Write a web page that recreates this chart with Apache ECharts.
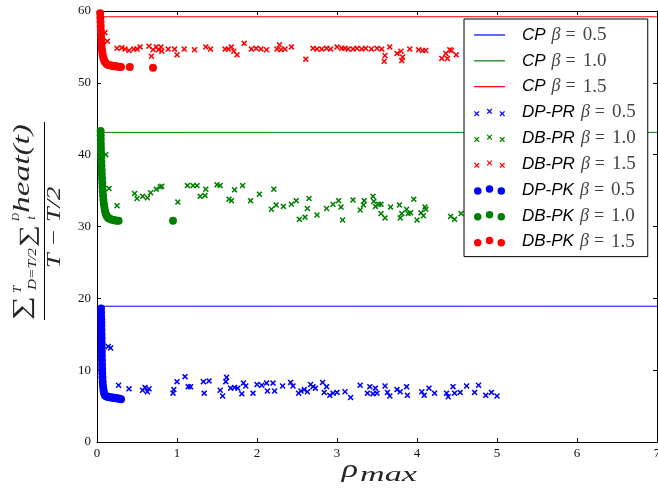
<!DOCTYPE html>
<html><head><meta charset="utf-8">
<script src="https://cdn.jsdelivr.net/npm/echarts@6/dist/echarts.min.js"></script>
<style>html,body{margin:0;padding:0;background:#fff}#c{width:658px;height:493px}</style>
</head><body><div id="c"></div>
<script>
// ---- axis ranges / ticks ----
const xRange = [0, 7];
const xInterval = 1;
const yRange = [0, 60];
const yInterval = 10;

// ---- series names (legend order) ----
const seriesNames = [
  'CP β = 0.5', 'CP β = 1.0', 'CP β = 1.5',
  'DP-PR β = 0.5', 'DB-PR β = 1.0', 'DB-PR β = 1.5',
  'DP-PK β = 0.5', 'DB-PK β = 1.0', 'DB-PK β = 1.5'
];
const seriesColors = ['#0000ff', '#008000', '#ff0000'];

// ---- CP constant levels ----
const cpLevels = [18.9, 43.1, 59.2];

// ---- DP-PR / DB-PR (crosses) [rho_max, value] ----
const dpPR05 = [[0.07,16.8],[0.14,13.3],[0.17,13.1],[0.27,7.9],[0.40,7.4],[0.57,7.2],[0.60,7.6],[0.63,7.0],[0.65,7.4],
  [0.95,6.8],[0.96,7.3],[1.00,8.4],[1.10,9.1],[1.14,7.7],[1.17,7.7],[1.33,8.4],[1.34,6.8],[1.40,8.5],[1.54,7.2],[1.57,6.4],
  [1.61,8.4],[1.62,9.0],[1.67,7.5],[1.72,7.6],[1.76,7.5],[1.81,6.7],[1.83,8.2],[1.86,7.8],[1.95,6.8],[2.00,8.0],[2.06,7.9],
  [2.12,8.2],[2.13,7.1],[2.20,8.2],[2.22,7.1],[2.32,7.8],[2.42,8.3],[2.45,7.8],[2.52,6.8],[2.55,7.1],[2.59,7.3],[2.63,7.0],
  [2.67,8.0],[2.70,7.7],[2.73,7.5],[2.82,8.3],[2.84,6.9],[2.87,7.7],[2.91,6.5],[2.95,6.8],[3.00,6.9],[3.10,7.0],[3.17,6.2],
  [3.29,7.9],[3.38,6.8],[3.41,7.7],[3.45,6.7],[3.48,7.5],[3.50,6.8],[3.60,7.8],[3.63,6.9],[3.66,6.4],[3.75,7.3],[3.79,7.0],
  [3.87,7.7],[3.88,6.5],[4.06,7.0],[4.09,6.5],[4.15,7.5],[4.22,6.8],[4.37,6.8],[4.39,6.3],[4.45,7.7],[4.47,6.8],[4.54,6.9],
  [4.62,7.8],[4.72,6.9],[4.77,7.9],[4.86,6.5],[4.93,6.9],[5.00,6.4]];
const dbPR10 = [[0.11,40.0],[0.15,35.3],[0.25,32.9],[0.47,34.6],[0.50,33.9],[0.57,34.2],[0.63,34.0],[0.67,34.7],[0.74,35.2],
  [0.79,35.5],[0.81,35.6],[1.01,33.4],[1.13,35.7],[1.20,35.7],[1.25,35.7],[1.29,34.2],[1.35,34.3],[1.36,35.2],[1.50,35.8],
  [1.54,35.7],[1.65,33.8],[1.68,33.6],[1.72,35.1],[1.82,35.7],[1.92,33.6],[2.03,34.5],[2.18,32.4],[2.21,35.2],[2.24,33.0],
  [2.33,32.8],[2.43,33.1],[2.49,33.6],[2.53,31.0],[2.60,31.3],[2.63,32.5],[2.65,33.9],[2.75,31.6],[2.87,32.5],[2.95,33.1],
  [3.02,33.6],[3.05,32.7],[3.07,30.9],[3.20,33.7],[3.29,32.3],[3.33,33.0],[3.34,33.6],[3.45,34.2],[3.46,33.5],[3.48,32.8],
  [3.52,33.1],[3.55,33.1],[3.55,31.8],[3.60,31.2],[3.67,32.7],[3.78,33.0],[3.79,31.2],[3.81,31.8],[3.87,32.4],[3.89,31.8],
  [3.92,31.9],[3.96,33.8],[4.00,30.9],[4.05,31.9],[4.08,31.5],[4.10,32.7],[4.11,32.4],[4.42,31.4],[4.47,31.0],[4.55,31.8]];
const dbPR15 = [[0.10,57.0],[0.13,55.8],[0.25,54.8],[0.31,54.9],[0.35,54.7],[0.40,54.5],[0.46,54.7],[0.50,54.7],[0.54,55.0],
  [0.65,55.1],[0.68,53.7],[0.70,54.6],[0.74,55.0],[0.77,54.6],[0.80,55.0],[0.81,54.4],[0.89,54.7],[0.97,54.7],[1.00,53.9],
  [1.09,54.7],[1.22,54.6],[1.36,55.0],[1.42,54.7],[1.60,54.7],[1.64,54.7],[1.68,55.0],[1.71,54.4],[1.75,53.9],[1.84,55.5],
  [1.93,54.7],[1.99,54.8],[2.05,54.7],[2.12,54.6],[2.25,54.7],[2.28,55.3],[2.30,54.6],[2.35,54.7],[2.43,55.0],[2.61,53.3],
  [2.70,54.8],[2.75,54.7],[2.81,54.7],[2.87,54.8],[2.92,54.7],[3.00,55.0],[3.06,54.8],[3.10,54.8],[3.14,54.7],[3.20,54.7],
  [3.25,54.8],[3.31,54.7],[3.36,54.8],[3.43,54.7],[3.50,54.8],[3.56,54.7],[3.59,53.0],[3.60,53.8],[3.66,55.0],[3.75,54.1],
  [3.80,54.4],[3.81,53.1],[3.82,53.6],[3.91,54.7],[4.02,54.6],[4.07,54.5],[4.11,54.5],[4.31,53.4],[4.36,54.1],[4.38,53.4],
  [4.41,54.6],[4.43,54.5],[4.49,53.9]];

// ---- DP-PK / DB-PK (dots) [rho_max, value] ----
const dpPK05 = [[0.050,18.6],[0.051,18.0],[0.052,17.4],[0.053,16.8],[0.054,16.2],[0.055,15.6],[0.056,15.0],[0.057,14.4],
  [0.058,13.8],[0.059,13.2],[0.060,12.6],[0.061,12.0],[0.062,11.4],[0.063,10.8],[0.064,10.2],[0.066,9.6],[0.068,9.0],
  [0.071,8.4],[0.075,7.8],[0.080,7.3],[0.087,6.9],[0.095,6.6],[0.105,6.45],[0.12,6.35],[0.135,6.3],[0.15,6.25],[0.17,6.2],
  [0.19,6.2],[0.21,6.15],[0.23,6.1],[0.25,6.1],[0.27,6.05],[0.29,6.0],[0.30,5.95]];
const dbPK10 = [[0.045,43.3],[0.046,42.7],[0.047,42.1],[0.048,41.5],[0.049,40.9],[0.050,40.3],[0.052,39.7],[0.054,39.1],
  [0.056,38.5],[0.058,37.9],[0.060,37.3],[0.063,36.7],[0.066,36.1],[0.069,35.5],[0.072,34.9],[0.076,34.3],[0.080,33.7],
  [0.085,33.2],[0.091,32.7],[0.098,32.3],[0.106,31.9],[0.115,31.6],[0.125,31.4],[0.14,31.2],[0.155,31.1],[0.17,31.0],
  [0.19,30.95],[0.21,30.9],[0.23,30.85],[0.25,30.8],[0.27,30.8],[0.95,30.8]];
const dbPK15 = [[0.040,59.7],[0.042,59.1],[0.044,58.5],[0.046,57.9],[0.048,57.3],[0.050,56.7],[0.053,56.1],[0.056,55.5],
  [0.060,54.9],[0.065,54.4],[0.071,53.9],[0.078,53.5],[0.087,53.2],[0.097,52.95],[0.11,52.75],[0.125,52.6],[0.14,52.5],
  [0.16,52.45],[0.18,52.4],[0.20,52.35],[0.22,52.3],[0.24,52.3],[0.26,52.25],[0.28,52.25],[0.30,52.2],[0.41,52.2],[0.70,52.1]];

// ---- marker shapes ----
function crossPoly(cx, cy, a, w) {
  const p = [[cx-a,cy-a+w],[cx-a+w,cy-a],[cx,cy-w],[cx+a-w,cy-a],[cx+a,cy-a+w],[cx+w,cy],
             [cx+a,cy+a-w],[cx+a-w,cy+a],[cx,cy+w],[cx-a+w,cy+a],[cx-a,cy+a-w],[cx-w,cy]];
  return 'M' + p.map(q => q[0].toFixed(2) + ' ' + q[1].toFixed(2)).join(' L') + ' Z';
}
function circlePath(cx, cy, r) {
  return `M${cx-r} ${cy} A${r} ${r} 0 1 0 ${cx+r} ${cy} A${r} ${r} 0 1 0 ${cx-r} ${cy} Z`;
}
const crossSymbol = 'path://' + crossPoly(5, 5, 5, 1.8);
const crossLegendIcon = 'path://' + [crossPoly(2.75,5.05,2.75,0.85), crossPoly(15.5,2.75,2.75,0.85), crossPoly(28.25,5.05,2.75,0.85)].join(' ');
const dotLegendIcon = 'path://' + [circlePath(3.75,5.85,3.75), circlePath(15.5,3.75,3.75), circlePath(27.25,5.85,3.75)].join(' ');
const lineLegendIcon = 'path://M0 0 L31 0 L31 1.2 L0 1.2 Z';

const crossData = [dpPR05, dbPR10, dbPR15];
const dotData = [dpPK05, dbPK10, dbPK15];

const series = [];
cpLevels.forEach((v, i) => {
  series.push({
    name: seriesNames[i], type: 'line', symbol: 'none', showSymbol: false, silent: true,
    data: [[xRange[0], v], [xRange[1], v]],
    lineStyle: { color: seriesColors[i], width: 1 }, itemStyle: { color: seriesColors[i] }, z: 2
  });
});
crossData.forEach((d, i) => {
  series.push({
    name: seriesNames[3 + i], type: 'scatter', symbol: crossSymbol, symbolSize: 6,
    data: d, itemStyle: { color: seriesColors[i], opacity: 1 }, z: 3
  });
});
dotData.forEach((d, i) => {
  series.push({
    name: seriesNames[6 + i], type: 'scatter', symbol: 'circle', symbolSize: 8,
    data: d, itemStyle: { color: seriesColors[i], opacity: 1 }, z: 4
  });
});

const axisCommon = {
  type: 'value', splitLine: { show: false },
  axisLine: { show: true, onZero: false, lineStyle: { color: '#000', width: 1 } },
  axisTick: { show: true, inside: true, length: 4, lineStyle: { color: '#000', width: 1 } }
};
const labelFont = { color: '#111', fontFamily: '"Liberation Serif", serif', fontSize: 13, showMinLabel: true, showMaxLabel: true };

const serifI = '"Liberation Serif", serif';
function mtext(x, y, text, size, sx, align) {
  return {
    type: 'text', x: x, y: y, scaleX: sx || 1,
    style: { text: text, fontFamily: serifI, fontStyle: 'italic', fontSize: size, fill: '#262626',
             align: align || 'left', verticalAlign: 'middle' }
  };
}
function utext(x, y, text, size, sx) {
  return {
    type: 'text', x: x, y: y, scaleX: sx || 1,
    style: { text: text, fontFamily: serifI, fontSize: size, fill: '#262626', align: 'left', verticalAlign: 'middle' }
  };
}

const chart = echarts.init(document.getElementById('c'), null, { renderer: 'canvas' });
chart.setOption({
  animation: false,
  backgroundColor: '#fff',
  grid: { left: 97, right: 1, top: 11, bottom: 51, containLabel: false, outerBoundsMode: 'none' },
  xAxis: [
    Object.assign({}, axisCommon, { position: 'bottom', min: xRange[0], max: xRange[1], interval: xInterval,
      axisLabel: Object.assign({ margin: 5 }, labelFont) }),
    Object.assign({}, axisCommon, { position: 'top', min: xRange[0], max: xRange[1], interval: xInterval,
      axisLabel: { show: false } })
  ],
  yAxis: [
    Object.assign({}, axisCommon, { position: 'left', min: yRange[0], max: yRange[1], interval: yInterval,
      axisLabel: Object.assign({ margin: 6 }, labelFont) }),
    Object.assign({}, axisCommon, { position: 'right', min: yRange[0], max: yRange[1], interval: yInterval,
      axisLabel: { show: false } })
  ],
  legend: {
    orient: 'vertical', left: 464, top: 19, padding: [6, 12, 5, 10], itemGap: 5.83,
    itemWidth: 31, itemHeight: 10, align: 'left', selectedMode: false,
    borderColor: '#000', borderWidth: 1, borderRadius: 0, backgroundColor: '#fff',
    data: seriesNames.map((n, i) => ({ name: n, icon: i < 3 ? lineLegendIcon : (i < 6 ? crossLegendIcon : dotLegendIcon) })),
    formatter: function (name) {
      const k = name.indexOf(' β');
      const pre = name.slice(0, k);
      const val = name.slice(k + 5);
      return '{a|' + pre + '}{g|β}{e|=}{b|' + val + '}';
    },
    textStyle: {
      lineHeight: 20,
      rich: {
        a: { fontFamily: '"Liberation Sans", sans-serif', fontStyle: 'italic', fontSize: 17, color: '#000', lineHeight: 20, padding: [0, 6, 0, 12] },
        g: { fontFamily: serifI, fontStyle: 'italic', fontSize: 18, color: '#444', lineHeight: 20, padding: [0, 5, 0, 0] },
        e: { fontFamily: serifI, fontSize: 18, color: '#444', lineHeight: 20, padding: [0, 7, 0, 0] },
        b: { fontFamily: serifI, fontSize: 19, color: '#444', lineHeight: 20 }
      }
    }
  },
  graphic: [
    {
      type: 'group', x: 44.5, y: 221, rotation: Math.PI / 2,
      children: [
        { type: 'line', shape: { x1: -99, y1: 0, x2: 99, y2: 0 }, style: { stroke: '#000', lineWidth: 1 } },
        utext(-99, -21.5, '∑', 24, 1.4),
        mtext(-72, -27, 'T', 13),
        mtext(-69, -11.5, 'D=T/2', 13, 1.18),
        utext(-26, -16.5, '∑', 22, 1.4),
        mtext(0, -28, 'D', 11),
        mtext(1.5, -12.5, 't', 12),
        mtext(8, -21.4, 'heat(t)', 23, 1.45),
        mtext(-6.5, 10, 'T − T/2', 19, 1.4, 'center')
      ]
    },
    mtext(341.7, 470, 'ρ', 25, 1.35),
    mtext(360, 475, 'max', 22, 1.55)
  ],
  series: series
});
</script>
</body></html>
